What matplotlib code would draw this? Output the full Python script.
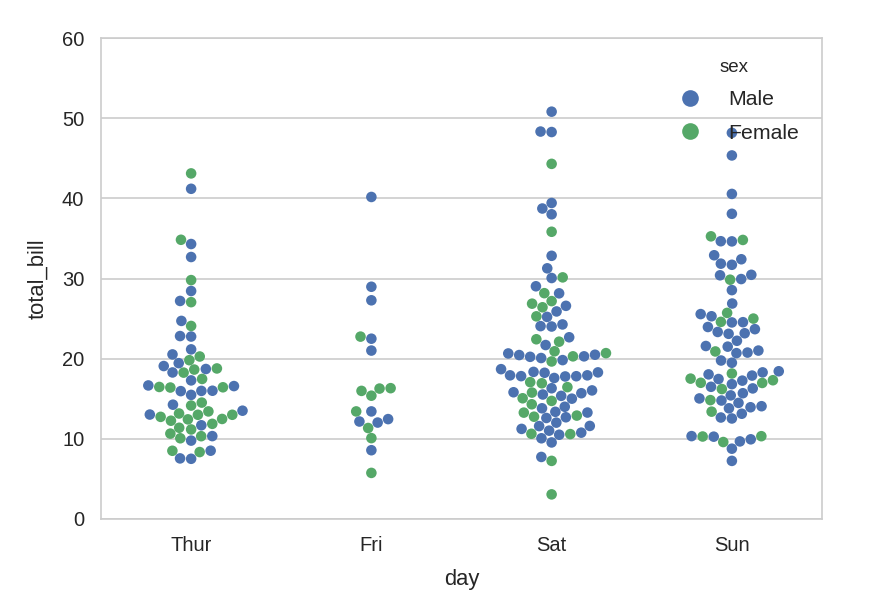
import numpy as np
import pandas as pd
import matplotlib
matplotlib.use("Agg")
import matplotlib.pyplot as plt
from matplotlib.lines import Line2D
import seaborn as sns

# total_bill values per day and sex (tips data)
thur_male = [27.20, 22.76, 17.29, 19.44, 16.66, 32.68, 15.98, 13.03, 18.28, 24.71,
             21.16, 11.69, 14.26, 15.95, 8.52, 22.82, 19.08, 16.00, 34.30, 41.19,
             9.78, 7.51, 28.44, 15.48, 16.58, 7.56, 10.34, 13.51, 18.71, 20.53]
thur_female = [10.07, 34.83, 10.65, 12.43, 24.08, 13.42, 12.48, 29.80, 14.52, 11.38,
               20.27, 11.17, 12.26, 18.26, 8.51, 10.33, 14.15, 13.16, 17.47, 27.05,
               16.43, 8.35, 18.64, 11.87, 19.81, 43.11, 13.00, 12.74, 13.00, 16.40,
               16.47, 18.78]
fri_male = [28.97, 22.49, 40.17, 27.28, 12.03, 21.01, 12.46, 12.16, 8.58, 13.42]
fri_female = [5.75, 16.32, 22.75, 11.35, 15.38, 13.42, 15.98, 16.27, 10.09]
sat_male = [20.65, 17.92, 39.42, 19.82, 17.81, 13.37, 12.69, 21.70, 9.55, 18.35,
            17.78, 24.06, 16.31, 18.69, 31.27, 16.04, 38.01, 11.24, 48.27, 20.29,
            13.81, 11.02, 18.29, 17.59, 20.08, 20.23, 15.01, 12.02, 10.51, 17.92,
            15.36, 20.49, 25.21, 18.24, 14.00, 50.81, 15.81, 26.59, 38.73, 24.27,
            30.06, 25.89, 48.33, 28.15, 11.59, 7.74, 20.45, 13.28, 24.01, 15.69,
            11.61, 10.77, 15.53, 10.07, 12.60, 32.83, 29.03, 22.67, 17.82]
sat_female = [20.29, 15.77, 19.65, 15.06, 20.69, 16.93, 26.41, 16.45, 3.07, 17.07,
              26.86, 25.28, 14.73, 44.30, 22.42, 20.92, 14.31, 7.25, 10.59, 10.63,
              12.76, 13.27, 28.17, 12.90, 30.14, 22.12, 35.83, 27.18]
sun_male = [10.34, 21.01, 23.68, 25.29, 8.77, 26.88, 15.04, 14.78, 10.27, 15.42,
            18.43, 21.58, 16.29, 17.46, 13.94, 9.68, 30.40, 18.29, 22.23, 32.40,
            28.55, 18.04, 12.54, 9.94, 25.56, 19.49, 38.07, 23.95, 29.93, 14.07,
            13.13, 17.26, 24.55, 19.77, 48.17, 16.49, 21.50, 12.66, 13.81, 24.52,
            20.76, 31.71, 7.25, 31.85, 16.82, 32.90, 17.89, 14.48, 34.63, 34.65,
            23.33, 45.35, 23.17, 40.55, 20.69, 30.46, 23.10, 15.69]
sun_female = [16.99, 24.59, 35.26, 14.83, 10.33, 16.97, 10.29, 34.81, 25.71, 17.31,
              29.85, 25.00, 13.39, 16.21, 17.51, 9.60, 20.90, 18.15]

days = ["Thur", "Fri", "Sat", "Sun"]
sexes = ["Male", "Female"]
groups = {
    ("Thur", "Male"): thur_male, ("Thur", "Female"): thur_female,
    ("Fri", "Male"): fri_male, ("Fri", "Female"): fri_female,
    ("Sat", "Male"): sat_male, ("Sat", "Female"): sat_female,
    ("Sun", "Male"): sun_male, ("Sun", "Female"): sun_female,
}

rows = []
for (d, s), vals in groups.items():
    for v in vals:
        rows.append((d, s, v))
tips = pd.DataFrame(rows, columns=["day", "sex", "total_bill"])

colors = {"Male": "#4C72B0", "Female": "#55A868"}
text_col = "#262626"

plt.rcParams["font.family"] = ["Liberation Sans", "DejaVu Sans"]

fig = plt.figure(figsize=(8.72, 6.06), dpi=100)
ax = fig.add_axes([101 / 872, 1 - 519 / 606, (822 - 101) / 872, (519 - 38) / 606])

sns.swarmplot(data=tips, x="day", y="total_bill", hue="sex",
              order=days, hue_order=sexes, palette=colors,
              size=7.6, linewidth=0, legend=False, ax=ax)

ax.set_ylim(0, 60)
ax.set_xlim(-0.5, 3.5)
ax.set_yticks(np.arange(0, 61, 10))
ax.yaxis.grid(True, color="#cccccc", linewidth=1.2)
ax.xaxis.grid(False)
ax.set_axisbelow(True)
for sp in ax.spines.values():
    sp.set_color("#cccccc")
    sp.set_linewidth(1.2)
ax.tick_params(length=0, labelsize=14.5, labelcolor=text_col, pad=12)
ax.set_xlabel("day", fontsize=15.8, color=text_col, labelpad=10)
ax.set_ylabel("total_bill", fontsize=15.8, color=text_col, labelpad=10)

handles = [Line2D([], [], marker="o", linestyle="", markersize=12,
                  markerfacecolor=colors[s], markeredgewidth=0, label=s)
           for s in sexes]
leg = ax.legend(handles=handles, title="sex", loc="upper right",
                frameon=False, fontsize=15.3, title_fontsize=13.5,
                bbox_to_anchor=(0.995, 0.997), handletextpad=0.8, labelspacing=0.69)
for t in leg.get_texts():
    t.set_color(text_col)
leg.get_title().set_color(text_col)

fig.savefig("out.png", dpi=100)
